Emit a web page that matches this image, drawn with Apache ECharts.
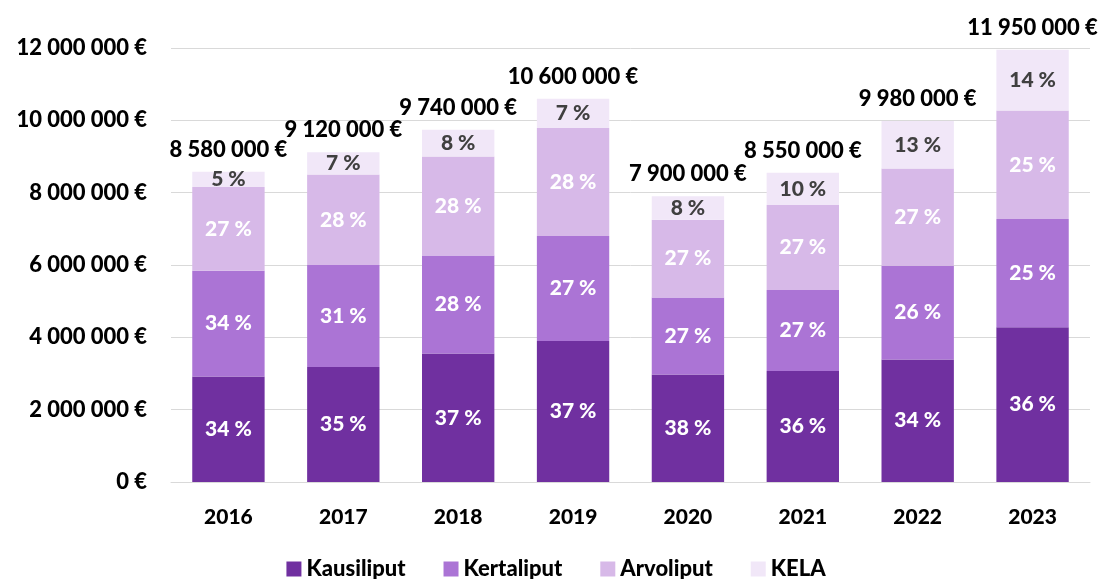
<!DOCTYPE html>
<html>
<head>
<meta charset="utf-8">
<script src="https://cdn.jsdelivr.net/npm/echarts@6/dist/echarts.min.js"></script>
<style>
  html, body { margin: 0; padding: 0; background: #fff; }
  #chart { width: 1112px; height: 579px; }
</style>
</head>
<body>
<div id="chart"></div>
<script>
// vuodet
const years = ["2016", "2017", "2018", "2019", "2020", "2021", "2022", "2023"];
// segmenttien arvot (luettu kuvasta)
const kausiliput = [2920000, 3180000, 3550000, 3900000, 2970000, 3070000, 3390000, 4280000];
const kertaliput = [2920000, 2820000, 2710000, 2900000, 2130000, 2240000, 2590000, 2990000];
const arvoliput = [2320000, 2500000, 2740000, 2990000, 2150000, 2350000, 2690000, 3000000];
const kela = [420000, 620000, 740000, 810000, 650000, 890000, 1310000, 1680000];
// prosenttiosuudet
const kausiPct = [34, 35, 37, 37, 38, 36, 34, 36];
const kertaPct = [34, 31, 28, 27, 27, 27, 26, 25];
const arvoPct = [27, 28, 28, 28, 27, 27, 27, 25];
const kelaPct = [5, 7, 8, 7, 8, 10, 13, 14];
// kokonaissummat
const totals = [8580000, 9120000, 9740000, 10600000, 7900000, 8550000, 9980000, 11950000];

const fontFam = "Lato, 'Open Sans', sans-serif";
const fw = 900;

const fmtEur = (v) => String(v).replace(/\B(?=(\d{3})+(?!\d))/g, " ") + " €";

const chart = echarts.init(document.getElementById("chart"));

function seg(name, data, pct, color, labelColor) {
  return {
    name: name,
    type: "bar",
    stack: "total",
    barWidth: "63%",
    itemStyle: { color: color },
    data: data,
    label: {
      show: true,
      position: "inside",
      color: labelColor,
      fontFamily: fontFam,
      fontWeight: fw,
      fontSize: 21,
      formatter: (p) => pct[p.dataIndex] + " %",
    },
  };
}

const series = [
  seg("Kausiliput", kausiliput, kausiPct, "#7030a0", "#ffffff"),
  seg("Kertaliput", kertaliput, kertaPct, "#ab74d5", "#ffffff"),
  seg("Arvoliput", arvoliput, arvoPct, "#d7b9e8", "#ffffff"),
  seg("KELA", kela, kelaPct, "#f1e7f8", "#404040"),
];
// summa-label pinon päälle
series.push({
  name: "total",
  type: "bar",
  stack: "total",
  barWidth: "63%",
  data: years.map(() => 0),
  itemStyle: { color: "transparent" },
  silent: true,
  label: {
    show: true,
    position: "top",
    distance: 11,
    color: "#000",
    fontFamily: fontFam,
    fontWeight: fw,
    fontSize: 22,
    formatter: (p) => fmtEur(totals[p.dataIndex]),
  },
});

const option = {
  backgroundColor: "#ffffff",
  animation: false,
  grid: { left: 171, right: 22, top: 48, bottom: 97 },
  legend: {
    data: ["Kausiliput", "Kertaliput", "Arvoliput", "KELA"],
    top: 553,
    left: "center",
    icon: "rect",
    itemWidth: 15,
    itemHeight: 15,
    itemGap: 38,
    textStyle: { fontFamily: fontFam, fontWeight: fw, fontSize: 22, color: "#000" },
  },
  xAxis: {
    type: "category",
    data: years,
    axisTick: { show: false },
    axisLine: { lineStyle: { color: "#d9d9d9" } },
    axisLabel: {
      margin: 25,
      color: "#000",
      fontFamily: fontFam,
      fontWeight: fw,
      fontSize: 21,
    },
  },
  yAxis: {
    type: "value",
    min: 0,
    max: 12000000,
    interval: 2000000,
    axisLine: { show: false },
    axisTick: { show: false },
    splitLine: { lineStyle: { color: "#d9d9d9", width: 1 } },
    axisLabel: {
      margin: 24,
      color: "#000",
      fontFamily: fontFam,
      fontWeight: fw,
      fontSize: 22,
      formatter: fmtEur,
    },
  },
  series: series,
};

chart.setOption(option);
</script>
</body>
</html>
